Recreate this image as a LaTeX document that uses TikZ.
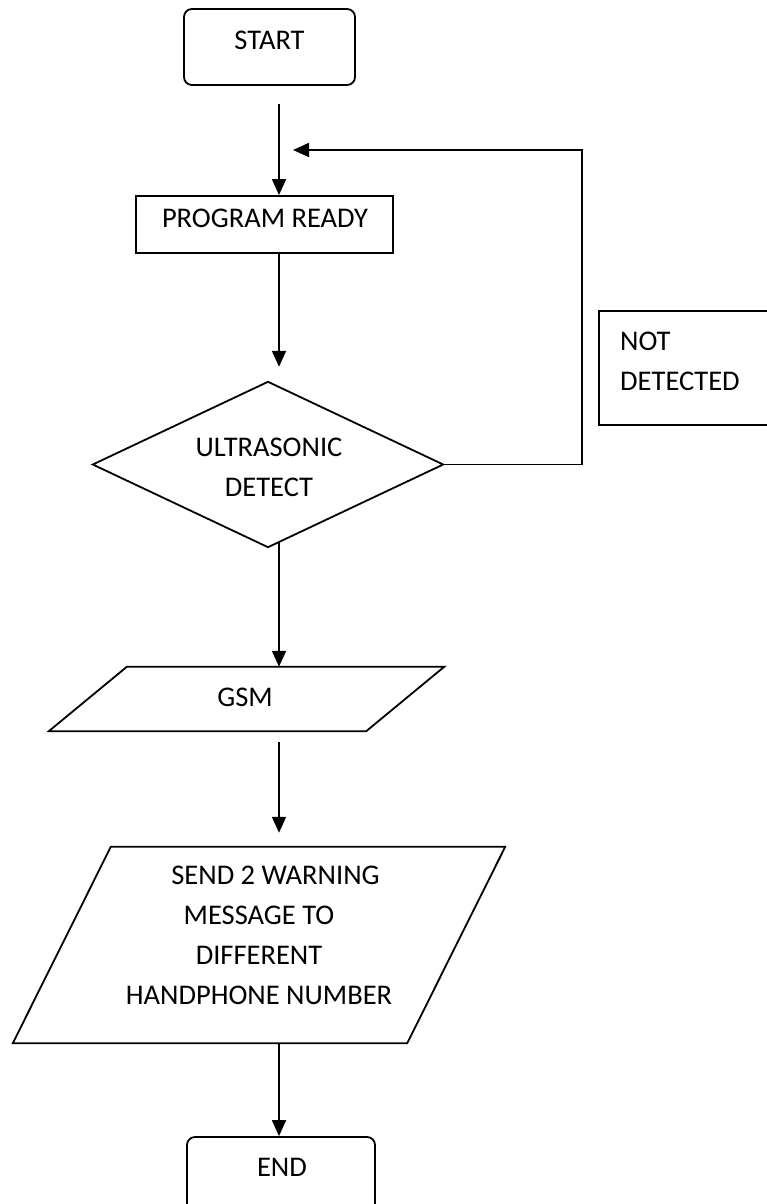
\documentclass[tikz,border=0pt]{standalone}
\usepackage{fontspec}
\setmainfont{Carlito}
\usetikzlibrary{arrows.meta}
\begin{document}
\begin{tikzpicture}[x=1pt,y=-1pt,
  line/.style={line width=1.8pt, draw=black},
  arr/.style={line, -{Triangle[length=16pt,width=14pt]}},
  term/.style={line, rounded corners=8pt, minimum height=76pt, inner sep=0pt},
  boxnode/.style={line, inner sep=0pt},
  ghost/.style={draw=none, inner sep=0pt},
  lbl/.style={font=\fontsize{28.5}{40}\selectfont, align=center, inner sep=0pt}]

\useasboundingbox (0,0) rectangle (766,1204);
\fill[white] (0,0) rectangle (766,1204);

% column of the main flow
\coordinate (col) at (279,0);

% start terminal
\node[term, minimum width=171pt] (start) at (269.5,47) {};
\node[lbl] (startlbl) at (269.5,40) {START};

% program ready
\node[boxnode, minimum width=257pt, minimum height=57pt] (pr) at (264.5,224.5) {};
\node[lbl] (prlbl) at (265,218) {PROGRAM READY};

% decision
\node[ghost, minimum width=350pt, minimum height=165pt] (det) at (268,464.5) {};
\draw[line] (det.north) -- (det.east) -- (det.south) -- (det.west) -- cycle;
\node[lbl] (detlbl) at (269,467) {ULTRASONIC\\DETECT};

% GSM input/output
\node[ghost, minimum width=317pt, minimum height=64pt] (gsm) at (246.5,699) {};
\draw[line] ([xshift=39pt]gsm.north west) -- ([xshift=39pt]gsm.north east)
  -- ([xshift=-39pt]gsm.south east) -- ([xshift=-39pt]gsm.south west) -- cycle;
\node[lbl] (gsmlbl) at (245,697) {GSM};

% message output
\node[ghost, minimum width=394pt, minimum height=196pt] (send) at (259,945) {};
\draw[line] ([xshift=49pt]send.north west) -- ([xshift=49pt]send.north east)
  -- ([xshift=-49pt]send.south east) -- ([xshift=-49pt]send.south west) -- cycle;
\node[lbl] (sendlbl) at (259,935) {\hspace*{33pt}SEND 2 WARNING\\MESSAGE TO\\DIFFERENT\\HANDPHONE NUMBER};

% end terminal
\node[term, minimum width=188pt] (end) at (281,1175) {};
\node[lbl] (endlbl) at (282,1167) {END};

% side note
\node[boxnode, minimum width=176pt, minimum height=114pt] (note) at (687,368) {};
\node[lbl, align=left, anchor=west] (notelbl) at (620,361) {NOT\\DETECTED};

% connectors
\draw[arr] ([yshift=-18pt]start.south -| col) -- (pr.north -| col);
\draw[arr] (pr.south -| col) -- ([yshift=15pt]det.north -| col);
\draw[arr] ([yshift=5pt]det.south -| col) -- (gsm.north -| col);
\draw[arr] ([yshift=-11pt]gsm.south -| col) -- ([yshift=14pt]send.north -| col);
\draw[arr] (send.south -| col) -- (end.north -| col);

% loop back when nothing is detected
\coordinate (loopc) at (582,150);
\coordinate (looptip) at (293,150);
\draw[arr] (det.east) -| (loopc) -- (looptip);
\end{tikzpicture}
\end{document}
